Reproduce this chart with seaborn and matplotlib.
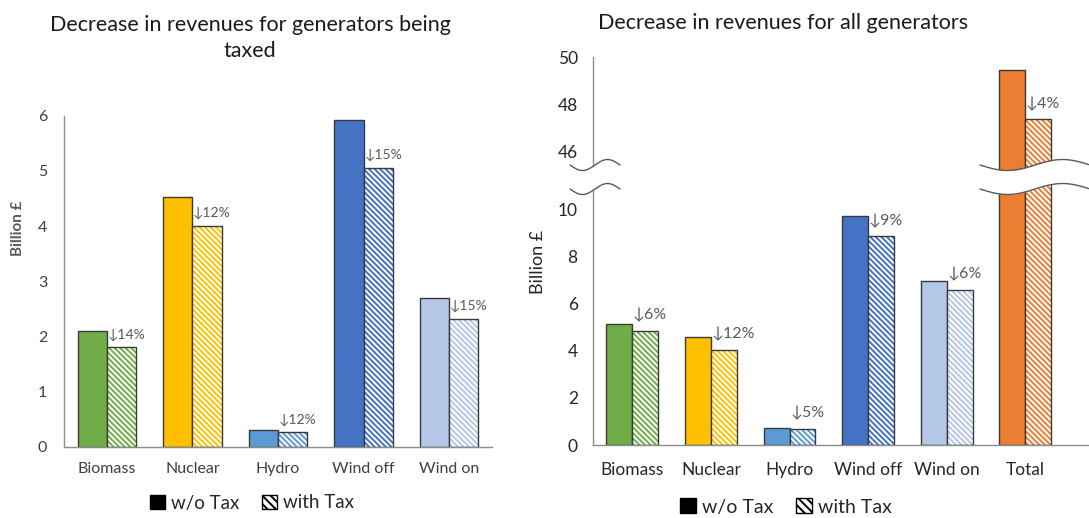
import numpy as np
import pandas as pd
import matplotlib
matplotlib.use('Agg')
import matplotlib.pyplot as plt
import seaborn as sns
from matplotlib.patches import Rectangle, Patch

# ---------------- data ----------------
series = ['w/o Tax', 'with Tax']

categories_left = ['Biomass', 'Nuclear', 'Hydro', 'Wind off', 'Wind on']
left_without_tax = [2.10, 4.52, 0.30, 5.92, 2.69]
left_with_tax = [1.80, 4.00, 0.26, 5.05, 2.31]
left_labels = ['↓14%', '↓12%', '↓12%', '↓15%', '↓15%']
left_yticks = [0, 1, 2, 3, 4, 5, 6]

categories_right = ['Biomass', 'Nuclear', 'Hydro', 'Wind off', 'Wind on', 'Total']
right_without_tax = [5.13, 4.57, 0.74, 9.74, 6.98, 49.45]
right_with_tax = [4.84, 4.05, 0.70, 8.86, 6.58, 47.35]
right_labels = ['↓6%', '↓12%', '↓5%', '↓9%', '↓6%', '↓4%']
right_lower_yticks = [0, 2, 4, 6, 8, 10]
right_upper_yticks = [46, 48, 50]

colors_left = ['#70AD47', '#FFC000', '#5B9BD5', '#4472C4', '#B4C7E7']
colors_right = colors_left + ['#ED7D31']

# ---------------- style ----------------
sns.set_theme(style='white')
FONT = ['Lato', 'DejaVu Sans']
plt.rcParams['font.family'] = FONT
plt.rcParams['hatch.linewidth'] = 1.4
EDGE = '#3a3a3a'
SPINE = '#8c8c8c'
HATCH = '\\\\\\\\\\\\'

W, H = 1089, 518
fig = plt.figure(figsize=(W / 100, H / 100), dpi=100)
fig.patch.set_facecolor('white')


def fr(x0, y_top, x1, y_bot):
    """pixel box -> figure fraction rect"""
    return [x0 / W, 1 - y_bot / H, (x1 - x0) / W, (y_bot - y_top) / H]


def draw_bars(ax, cats, wo, wi, colors, width, labels, fs, offset):
    n = len(cats)
    df = pd.DataFrame({'cat': cats * 2, 'value': wo + wi,
                       'series': [series[0]] * n + [series[1]] * n})
    sns.barplot(data=df, x='cat', y='value', hue='series', hue_order=series,
                order=cats, width=width, gap=0, legend=False, ax=ax,
                errorbar=None, palette=['black', 'white'])
    for p, c in zip(ax.containers[0], colors):
        p.set_facecolor(c)
        p.set_edgecolor(EDGE)
        p.set_linewidth(1.0)
    for p, c, lab in zip(ax.containers[1], colors, labels):
        p.set_facecolor('white')
        p.set_edgecolor(c)
        p.set_hatch(HATCH)
        p.set_linewidth(0)
        ax.add_patch(Rectangle(p.get_xy(), p.get_width(), p.get_height(),
                               fill=False, ec=EDGE, lw=1.0, zorder=p.get_zorder() + 0.1))
        ax.annotate(lab, xy=(p.get_x(), p.get_y() + p.get_height()),
                    xytext=(0.5, offset), textcoords='offset points',
                    ha='left', va='center', color='#595959', fontsize=fs,
                    family=FONT)


def style_axis(ax, tick_fs, tick_color):
    sns.despine(ax=ax)
    for s in ('left', 'bottom'):
        ax.spines[s].set_color(SPINE)
        ax.spines[s].set_linewidth(1.0)
    ax.tick_params(axis='both', length=0, labelsize=tick_fs, colors=tick_color)
    ax.set_xlabel('')
    ax.set_ylabel('')


# ---------------- left panel ----------------
axL = fig.add_axes(fr(64, 115.7, 492, 446.7))
draw_bars(axL, categories_left, left_without_tax, left_with_tax, colors_left,
          0.68, left_labels, 10, 9.4)
axL.set_xlim(-0.5, 4.5)
axL.set_ylim(0, 6)
axL.set_yticks(left_yticks)
style_axis(axL, 11.5, '#404040')
axL.tick_params(axis='x', pad=11)
axL.tick_params(axis='y', pad=12)
axL.set_ylabel('Billion £', fontsize=11, fontweight='bold', color='#595959')
axL.yaxis.set_label_coords(-0.09, 0.66)
fig.text(250 / W, 1 - 38 / H, 'Decrease in revenues for generators being\ntaxed',
         ha='center', va='center', fontsize=15.5, color='#1a1a1a',
         linespacing=1.4)
leg_handles = [Patch(facecolor='black', edgecolor='black'),
               Patch(facecolor='white', edgecolor='black', hatch='\\\\\\\\')]
fig.legend(leg_handles, series, loc='center', bbox_to_anchor=(252 / W, 1 - 503 / H),
           ncol=2, frameon=False, fontsize=13.5, handlelength=0.8,
           handleheight=0.8, handletextpad=0.3, columnspacing=1.2)

# ---------------- right panel (broken axis) ----------------
y_px_per_unit = 23.54
up_top, up_bot = 57, 172
lo_top, lo_bot = 180, 445
axU = fig.add_axes(fr(593, up_top, W, up_bot))
axD = fig.add_axes(fr(593, lo_top, W, lo_bot))

for ax in (axU, axD):
    draw_bars(ax, categories_right, right_without_tax, right_with_tax,
              colors_right, 0.66, right_labels, 11.5, 11.3)
    ax.set_xlim(-0.5, 5.81)

axU.set_ylim(50 - (up_bot - up_top) / y_px_per_unit, 50)
axU.set_yticks(right_upper_yticks)
axD.set_ylim(0, (lo_bot - lo_top) / y_px_per_unit)
axD.set_yticks(right_lower_yticks)
style_axis(axU, 12.5, '#262626')
style_axis(axD, 12.5, '#262626')
axU.spines['bottom'].set_visible(False)
axU.set_xticks([])
axU.tick_params(axis='y', pad=11)
axD.tick_params(axis='y', pad=11)
axD.tick_params(axis='x', pad=12)
axD.set_ylabel('Billion £', fontsize=13, color='#262626')
axD.yaxis.set_label_coords(-0.095, 0.69)

fig.text(598 / W, 1 - 23 / H, 'Decrease in revenues for all generators',
         ha='left', va='center', fontsize=15.5, color='#1a1a1a')
fig.legend(leg_handles, series, loc='center', bbox_to_anchor=(786 / W, 1 - 507 / H),
           ncol=2, frameon=False, fontsize=14, handlelength=0.8,
           handleheight=0.8, handletextpad=0.3, columnspacing=1.2)

# ---------------- break marks ----------------
ov = fig.add_axes([0, 0, 1, 1], zorder=10)
ov.set_xlim(0, W)
ov.set_ylim(H, 0)
ov.axis('off')
ov.patch.set_alpha(0)


def wave_pair(x0, x1, c1, c2, amp, period):
    x = np.linspace(x0, x1, 200)
    ph = 2 * np.pi * (x - x0) / period
    y1 = c1 + amp * np.sin(ph)
    y2 = c2 + amp * np.sin(ph)
    ov.fill_between(x, y1, y2, color='white', lw=0)
    ov.plot(x, y1, color='#595959', lw=1.0)
    ov.plot(x, y2, color='#595959', lw=1.0)


wave_pair(570, 620, 165, 189, 5.5, 50)
wave_pair(980, W, 165, 189, 5.5, 110)

fig.savefig('out.png', dpi=100, facecolor='white')
